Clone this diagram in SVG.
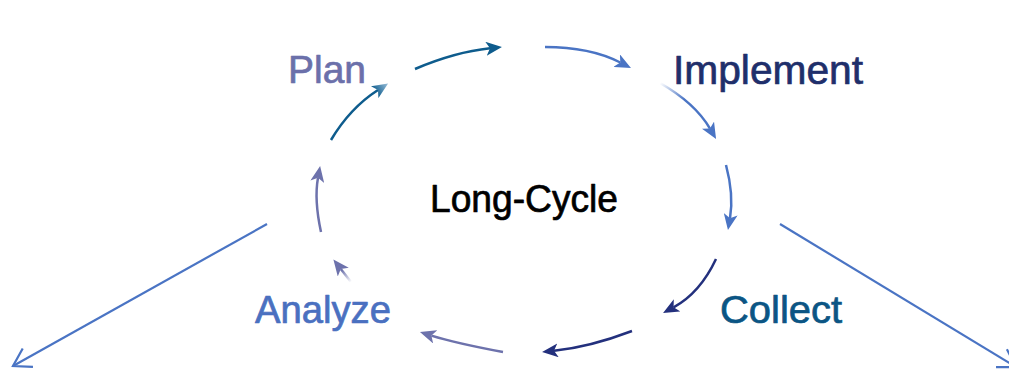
<svg xmlns="http://www.w3.org/2000/svg" width="1009" height="372" viewBox="0 0 1009 372">
  <style>
    .lbl { font-family: "Liberation Sans", Arial, sans-serif; stroke-width: 0.7; stroke-linejoin: round; }
    .arc { fill: none; stroke-width: 2.5; stroke-linecap: butt; }
    .teal { stroke: #0E5C8D; }
    .blue { stroke: #4A74C4; }
    .navy { stroke: #23307D; }
    .purple { stroke: #6D72AC; }
    .outer { fill: none; stroke: #4A74C4; stroke-width: 2.2; }
  </style>
  <defs>
    <linearGradient id="gTealHead" x1="0" y1="0" x2="1" y2="0">
      <stop offset="0" stop-color="#0E5C8D"/>
      <stop offset="1" stop-color="#9CC0DA"/>
    </linearGradient>
    <linearGradient id="gFade4" gradientUnits="userSpaceOnUse" x1="660" y1="83" x2="682" y2="102">
      <stop offset="0" stop-color="#FFFFFF"/>
      <stop offset="1" stop-color="#4A74C4"/>
    </linearGradient>
    <linearGradient id="gFade9" gradientUnits="userSpaceOnUse" x1="351" y1="282" x2="342" y2="270">
      <stop offset="0" stop-color="#FFFFFF"/>
      <stop offset="1" stop-color="#6D72AC"/>
    </linearGradient>
    <marker id="hTeal" viewBox="0 0 16 14" refX="4" refY="7" markerWidth="16" markerHeight="14" markerUnits="userSpaceOnUse" orient="auto">
      <path d="M0,0 L16,7 L0,14 L4,7 z" fill="#0E5C8D"/>
    </marker>
    <marker id="hTealGrad" viewBox="0 0 16 14" refX="4" refY="7" markerWidth="16" markerHeight="14" markerUnits="userSpaceOnUse" orient="auto">
      <path d="M0,0 L16,7 L0,14 L4,7 z" fill="url(#gTealHead)"/>
    </marker>
    <marker id="hBlue" viewBox="0 0 16 14" refX="4" refY="7" markerWidth="16" markerHeight="14" markerUnits="userSpaceOnUse" orient="auto">
      <path d="M0,0 L16,7 L0,14 L4,7 z" fill="#4A74C4"/>
    </marker>
    <marker id="hNavy" viewBox="0 0 16 14" refX="4" refY="7" markerWidth="16" markerHeight="14" markerUnits="userSpaceOnUse" orient="auto">
      <path d="M0,0 L16,7 L0,14 L4,7 z" fill="#23307D"/>
    </marker>
    <marker id="hPurple" viewBox="0 0 16 14" refX="4" refY="7" markerWidth="16" markerHeight="14" markerUnits="userSpaceOnUse" orient="auto">
      <path d="M0,0 L16,7 L0,14 L4,7 z" fill="#6D72AC"/>
    </marker>
    <marker id="hOpen" viewBox="0 0 24 24" refX="20" refY="12" markerWidth="24" markerHeight="24" markerUnits="userSpaceOnUse" orient="auto" overflow="visible">
      <path d="M3,1.5 L20,12 L3,22.5" fill="none" stroke="#4A74C4" stroke-width="2.2"/>
    </marker>
  </defs>

  <g id="connectors">
    <path class="arc teal" d="M331,140 Q350,108 378,90" marker-end="url(#hTealGrad)"/>
    <path class="arc teal" d="M415,69 Q455,52 490,48.3" marker-end="url(#hTeal)"/>
    <path class="arc blue" d="M545,47 Q590,47 620.3,62.5" marker-end="url(#hBlue)"/>
    <path class="arc" stroke="url(#gFade4)" d="M660,83 Q695,103 710,128.6" marker-end="url(#hBlue)"/>
    <path class="arc blue" d="M726,165 Q734,195 730,218.2" marker-end="url(#hBlue)"/>
    <path class="arc navy" d="M716,259 Q700,293 673.6,307.3" marker-end="url(#hNavy)"/>
    <path class="arc navy" d="M632,331 Q590,347 554,350.8" marker-end="url(#hNavy)"/>
    <path class="arc purple" d="M503,352 Q455,343 431.4,335.6" marker-end="url(#hPurple)"/>
    <path class="arc" stroke="url(#gFade9)" d="M351,282 L340.8,269" marker-end="url(#hPurple)"/>
    <path class="arc purple" d="M321,232 Q314,200 318,177.8" marker-end="url(#hPurple)"/>
    <path class="outer" d="M267,224 L13,366" marker-end="url(#hOpen)"/>
    <path class="outer" d="M780,224 L1016,367" marker-end="url(#hOpen)"/>
  </g>

  <g id="node-plan">
    <text class="lbl" x="288" y="83" font-size="39" fill="#6B70AA" stroke="#6B70AA" textLength="78" lengthAdjust="spacingAndGlyphs">Plan</text>
  </g>
  <g id="node-implement">
    <text class="lbl" x="673" y="84" font-size="40" fill="#1F2F6B" stroke="#1F2F6B" textLength="190" lengthAdjust="spacingAndGlyphs">Implement</text>
  </g>
  <g id="node-collect">
    <text class="lbl" x="720" y="323" font-size="39" fill="#0B5584" stroke="#0B5584" textLength="122" lengthAdjust="spacingAndGlyphs">Collect</text>
  </g>
  <g id="node-analyze">
    <text class="lbl" x="255" y="323" font-size="39" fill="#4A70C0" stroke="#4A70C0" textLength="136" lengthAdjust="spacingAndGlyphs">Analyze</text>
  </g>
  <g id="node-center">
    <text class="lbl" x="430" y="212" font-size="38" fill="#000000" stroke="#000000" textLength="188" lengthAdjust="spacingAndGlyphs">Long-Cycle</text>
  </g>
</svg>
